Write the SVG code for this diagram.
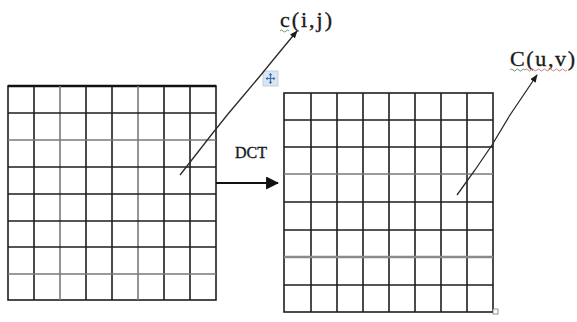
<svg xmlns="http://www.w3.org/2000/svg" width="577" height="322" viewBox="0 0 577 322">
<defs>
<style>
.g{stroke:#1e1e1e;stroke-width:1.6;fill:none}
.lt{stroke:#7a7a7a;stroke-width:1.6;fill:none}
.lbl{font-family:"Liberation Serif","Times New Roman",serif;fill:#1a1a1a;stroke:#1a1a1a;stroke-width:0.35}
.ptr{stroke:#2a2a2a;stroke-width:1.3;fill:none}
</style>
<marker id="ah" viewBox="0 0 10 10" refX="9" refY="5" markerWidth="8" markerHeight="8" orient="auto" markerUnits="userSpaceOnUse">
<path d="M0,1 L10,5 L0,9 Z" fill="#1a1a1a"/>
</marker>
<marker id="ahb" viewBox="0 0 12 12" refX="11" refY="6" markerWidth="13" markerHeight="13" orient="auto" markerUnits="userSpaceOnUse">
<path d="M0,0 L12,6 L0,12 Z" fill="#111"/>
</marker>
</defs>
<rect width="577" height="322" fill="#fff"/>

<g id="grid-left">
<rect x="8" y="86" width="208" height="214" class="g"/>
<line x1="8" y1="86" x2="216" y2="86" stroke="#111" stroke-width="2.6"/>
<path class="g" d="M34,86V300M86,86V300M112,86V300M164,86V300M190,86V300"/>
<path class="lt" d="M60,86V300M138,86V300"/>
<path class="g" d="M8,113H216M8,167H216M8,194H216M8,221H216M8,247H216"/>
<path class="lt" d="M8,140H216M8,274H216"/>
</g>

<g id="grid-right">
<rect x="284" y="93" width="209" height="219" class="g"/>
<path class="g" d="M311,93V312M337,93V312M363,93V312M389,93V312M415,93V312M441,93V312M467,93V312"/>
<path class="g" d="M284,120H493M284,147H493M284,202H493M284,230H493M284,285H493"/>
<path class="lt" d="M284,174H493"/>
<line x1="284" y1="257" x2="493" y2="257" stroke="#8a8a8a" stroke-width="2.6"/>
<rect x="493" y="309" width="5" height="5" fill="#fff" stroke="#777" stroke-width="0.8"/>
</g>

<g id="label-cij">
<text class="lbl" x="280" y="27" font-size="22" stroke-width="0.6" textLength="52" lengthAdjust="spacing">c(i,j)</text>
<path d="M280,31 q1.5,-2 3,0 t3,0 t3,0" stroke="#6a9a6a" stroke-width="1" fill="none"/>
</g>

<g id="label-cuv">
<text class="lbl" x="510" y="66" font-size="22" textLength="65" lengthAdjust="spacing">C(u,v)</text>
<path d="M510,70 q1.5,-2 3,0 t3,0 t3,0 t3,0 t3,0" stroke="#6a9a6a" stroke-width="1" fill="none"/>
<path d="M525,70 q1.5,-2 3,0 t3,0 t3,0 t3,0 t3,0 t3,0 t3,0 t3,0 t3,0 t3,0 t3,0 t3,0 t3,0 t3,0" stroke="#d08080" stroke-width="1" fill="none"/>
</g>

<g id="label-dct">
<text class="lbl" x="235" y="158" font-size="16">DCT</text>
</g>

<g id="move-icon">
<rect x="263" y="71" width="15" height="15" fill="#dce6f2" stroke="#b8c8dc" stroke-width="0.8"/>
<path d="M270.5,73.5V83.5M266,78.5H275" stroke="#3a6ea8" stroke-width="1.2"/>
<path d="M270.5,73 l-1.8,2.2h3.6z M270.5,84 l-1.8,-2.2h3.6z M265.5,78.5 l2.2,-1.8v3.6z M275.5,78.5 l-2.2,-1.8v3.6z" fill="#3a6ea8"/>
</g>

<g id="connectors">
<path class="ptr" d="M180,175 L198,152 L212,134 L228,114 L244,95 L260,76 L278,54 L297,31" marker-end="url(#ah)"/>
<path class="ptr" d="M457,195 L475,170 L492,145 L510,115 L537,75" marker-end="url(#ah)"/>
<line x1="216" y1="183" x2="278" y2="183" stroke="#111" stroke-width="1.8" marker-end="url(#ahb)"/>
</g>
</svg>
